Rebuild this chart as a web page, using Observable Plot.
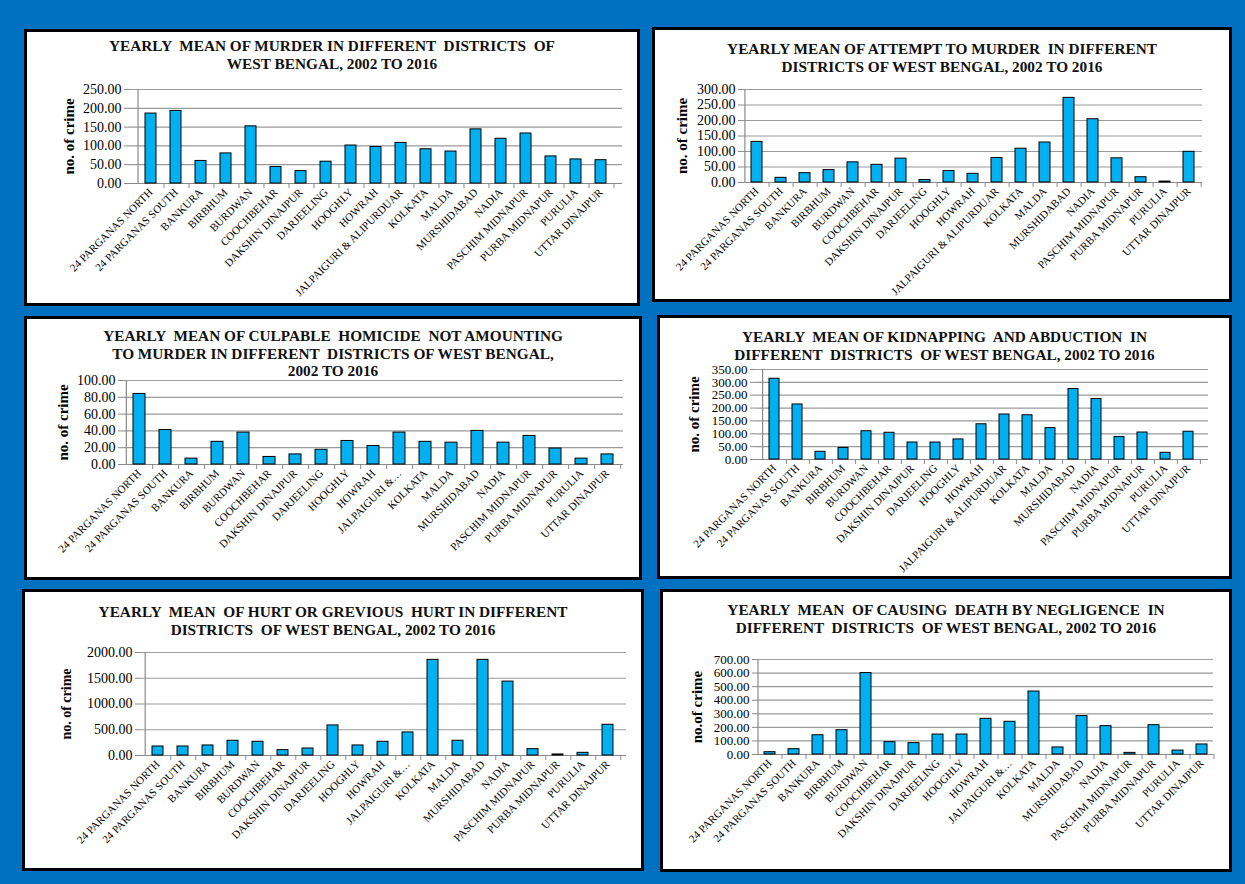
<!DOCTYPE html>
<html><head><meta charset="utf-8">
<script src="https://cdn.jsdelivr.net/npm/d3@7"></script>
<script src="https://cdn.jsdelivr.net/npm/@observablehq/plot@0.6"></script>
<style>
html,body{margin:0;padding:0;background:#0070C0;}
#root{position:relative;width:1245px;height:884px;background:#0070C0;overflow:hidden;}
.panel{position:absolute;box-sizing:border-box;border:3px solid #000;background:#fff;}
.title{position:absolute;left:0;right:0;font-family:"Liberation Serif","Times New Roman",serif;font-weight:bold;font-size:15.3px;line-height:17.5px;color:#111;}
.title div{width:fit-content;margin:0 auto;white-space:pre;}
.panel svg{position:absolute;left:0;top:0;overflow:visible;}
</style></head><body><div id="root"></div>
<script>
// ---- data ----
const districts = ["24 PARGANAS NORTH","24 PARGANAS SOUTH","BANKURA","BIRBHUM","BURDWAN","COOCHBEHAR","DAKSHIN DINAJPUR","DARJEELING","HOOGHLY","HOWRAH","JALPAIGURI & ALIPURDUAR","KOLKATA","MALDA","MURSHIDABAD","NADIA","PASCHIM MIDNAPUR","PURBA MIDNAPUR","PURULIA","UTTAR DINAJPUR"];
const tickLabelsFull = districts.slice();
const tickLabelsShort = ["24 PARGANAS NORTH","24 PARGANAS SOUTH","BANKURA","BIRBHUM","BURDWAN","COOCHBEHAR","DAKSHIN DINAJPUR","DARJEELING","HOOGHLY","HOWRAH","JALPAIGURI &\u2026","KOLKATA","MALDA","MURSHIDABAD","NADIA","PASCHIM MIDNAPUR","PURBA MIDNAPUR","PURULIA","UTTAR DINAJPUR"];

const murder     = [186,193,60,80,152,44,33,58,101,97,108,91,85,144,119,133,72,64,62];
const attempt    = [131,15,30,40,65,57,77,8,37,28,79,109,129,273,204,78,17,3,99];
const culpable   = [84,41,7,27,38,9,12,17.5,28,22,38,27,26,40,26,34,19,7,12];
const kidnapping = [314,214,30,45,110,104,66,66,78,137,175,172,122,274,235,87,105,26,108];
const hurt       = [175,175,195,286,266,104,136,584,195,266,448,1857,286,1857,1435,123,20,52,597];
const negligence = [17,39,142,179,600,91,84,147,147,263,241,464,52,283,209,12,216,29,74];

const ticksMurder     = [0,50,100,150,200,250];
const ticksAttempt    = [0,50,100,150,200,250,300];
const ticksCulpable   = [0,20,40,60,80,100];
const ticksKidnapping = [0,50,100,150,200,250,300,350];
const ticksHurt       = [0,500,1000,1500,2000];
const ticksNegligence = [0,100,200,300,400,500,600,700];

const titleMurder     = ["YEARLY  MEAN OF MURDER IN DIFFERENT  DISTRICTS  OF","WEST BENGAL, 2002 TO 2016"];
const titleAttempt    = ["YEARLY MEAN OF ATTEMPT TO MURDER  IN DIFFERENT","DISTRICTS OF WEST BENGAL, 2002 TO 2016"];
const titleCulpable   = ["YEARLY  MEAN OF CULPABLE  HOMICIDE  NOT AMOUNTING","TO MURDER IN DIFFERENT  DISTRICTS OF WEST BENGAL,","2002 TO 2016"];
const titleKidnapping = ["YEARLY  MEAN OF KIDNAPPING  AND ABDUCTION  IN","DIFFERENT  DISTRICTS  OF WEST BENGAL, 2002 TO 2016"];
const titleHurt       = ["YEARLY  MEAN  OF HURT OR GREVIOUS  HURT IN DIFFERENT","DISTRICTS  OF WEST BENGAL, 2002 TO 2016"];
const titleNegligence = ["YEARLY  MEAN  OF CAUSING  DEATH BY NEGLIGENCE  IN","DIFFERENT  DISTRICTS  OF WEST BENGAL, 2002 TO 2016"];

// ---- layout ----
const panels = [
  {box:[24,29,640,306],  margins:[57,15,120,102], titleTop:5,  labelDx:-60, values:murder,     ticks:ticksMurder,     title:titleMurder,     labels:tickLabelsFull,  yLabel:"no. of crime", tickFont:14, labelFont:15},
  {box:[652,27,1232,302],margins:[59,27,117,88],  titleTop:10, labelDx:-61, values:attempt,    ticks:ticksAttempt,    title:titleAttempt,    labels:tickLabelsFull,  yLabel:"no. of crime", tickFont:14, labelFont:15},
  {box:[24,316,642,580], margins:[61,16,113,96],  titleTop:8,  labelDx:-60, values:culpable,   ticks:ticksCulpable,   title:titleCulpable,   labels:tickLabelsShort, yLabel:"no. of crime", tickFont:14, labelFont:15},
  {box:[657,315,1232,579],margins:[51,21,117,95], titleTop:10, labelDx:-61, values:kidnapping, ticks:ticksKidnapping, title:titleKidnapping, labels:tickLabelsFull,  yLabel:"no. of crime", tickFont:13, labelFont:15},
  {box:[22,589,644,871], margins:[60,15,113,115], titleTop:11, labelDx:-74, values:hurt,       ticks:ticksHurt,       title:titleHurt,       labels:tickLabelsShort, yLabel:"no. of crime", tickFont:14, labelFont:14},
  {box:[660,589,1232,872],margins:[67,16,115,94], titleTop:9,  labelDx:-60, values:negligence, ticks:ticksNegligence, title:titleNegligence, labels:tickLabelsShort, yLabel:"no.of crime",  tickFont:13, labelFont:15}
];

const root = document.getElementById("root");
const FONT = "Liberation Serif, Times New Roman, serif";
const GRID = "#9a9a9a";
const AXIS = "#8a8a8a";

for (const cfg of panels) {
  const [x0,y0,x1,y1] = cfg.box;
  const div = document.createElement("div");
  div.className = "panel";
  Object.assign(div.style, {left:x0+"px", top:y0+"px", width:(x1-x0)+"px", height:(y1-y0)+"px"});
  root.appendChild(div);
  const W = x1-x0-6, H = y1-y0-6;
  const [mT,mR,mB,mL] = cfg.margins;
  const step = (W-mL-mR)/districts.length;
  const data = districts.map((d,i)=>({district:d, value:cfg.values[i]}));
  const fmt = d => cfg.labels[districts.indexOf(d)];
  const chart = Plot.plot({
    width: W, height: H,
    marginTop: mT, marginRight: mR, marginBottom: mB, marginLeft: mL,
    style: {fontFamily: FONT, color: "#000", background: "transparent", overflow: "visible"},
    x: {domain: districts, paddingInner: 0.55, paddingOuter: 0.275},
    y: {domain: [0, cfg.ticks[cfg.ticks.length-1]]},
    marks: [
      Plot.gridY(cfg.ticks, {stroke: GRID, strokeOpacity: 1, strokeWidth: 1.2}),
      Plot.ruleY([0], {stroke: AXIS, strokeWidth: 1.2}),
      Plot.ruleX([districts[0]], {dx: -step/2, stroke: AXIS, strokeWidth: 1.2}),
      Plot.axisY(cfg.ticks, {tickSize: 5, tickPadding: 3, stroke: AXIS, tickFormat: d => d.toFixed(2), fontSize: cfg.tickFont, label: null}),
      Plot.axisX({tickSize: 5, tickFormat: () => "", dx: step/2, stroke: AXIS, label: null}),
      Plot.axisX({tickSize: 0, tickPadding: 7, tickRotate: -45, tickFormat: fmt, fontSize: 11, label: null}),
      Plot.barY(data, {x: "district", y: "value", fill: "#00B0F0", stroke: "#000", strokeWidth: 1}),
      Plot.text([cfg.yLabel], {frameAnchor: "left", dx: cfg.labelDx, rotate: -90, textAnchor: "middle", fontSize: cfg.labelFont, fontWeight: "bold", fill: "#000"})
    ]
  });
  div.appendChild(chart);
  const t = document.createElement("div");
  t.className = "title";
  t.style.top = cfg.titleTop + "px";
  for (const line of cfg.title) {
    const l = document.createElement("div");
    l.textContent = line;
    t.appendChild(l);
  }
  div.appendChild(t);
}
</script>
</body></html>
